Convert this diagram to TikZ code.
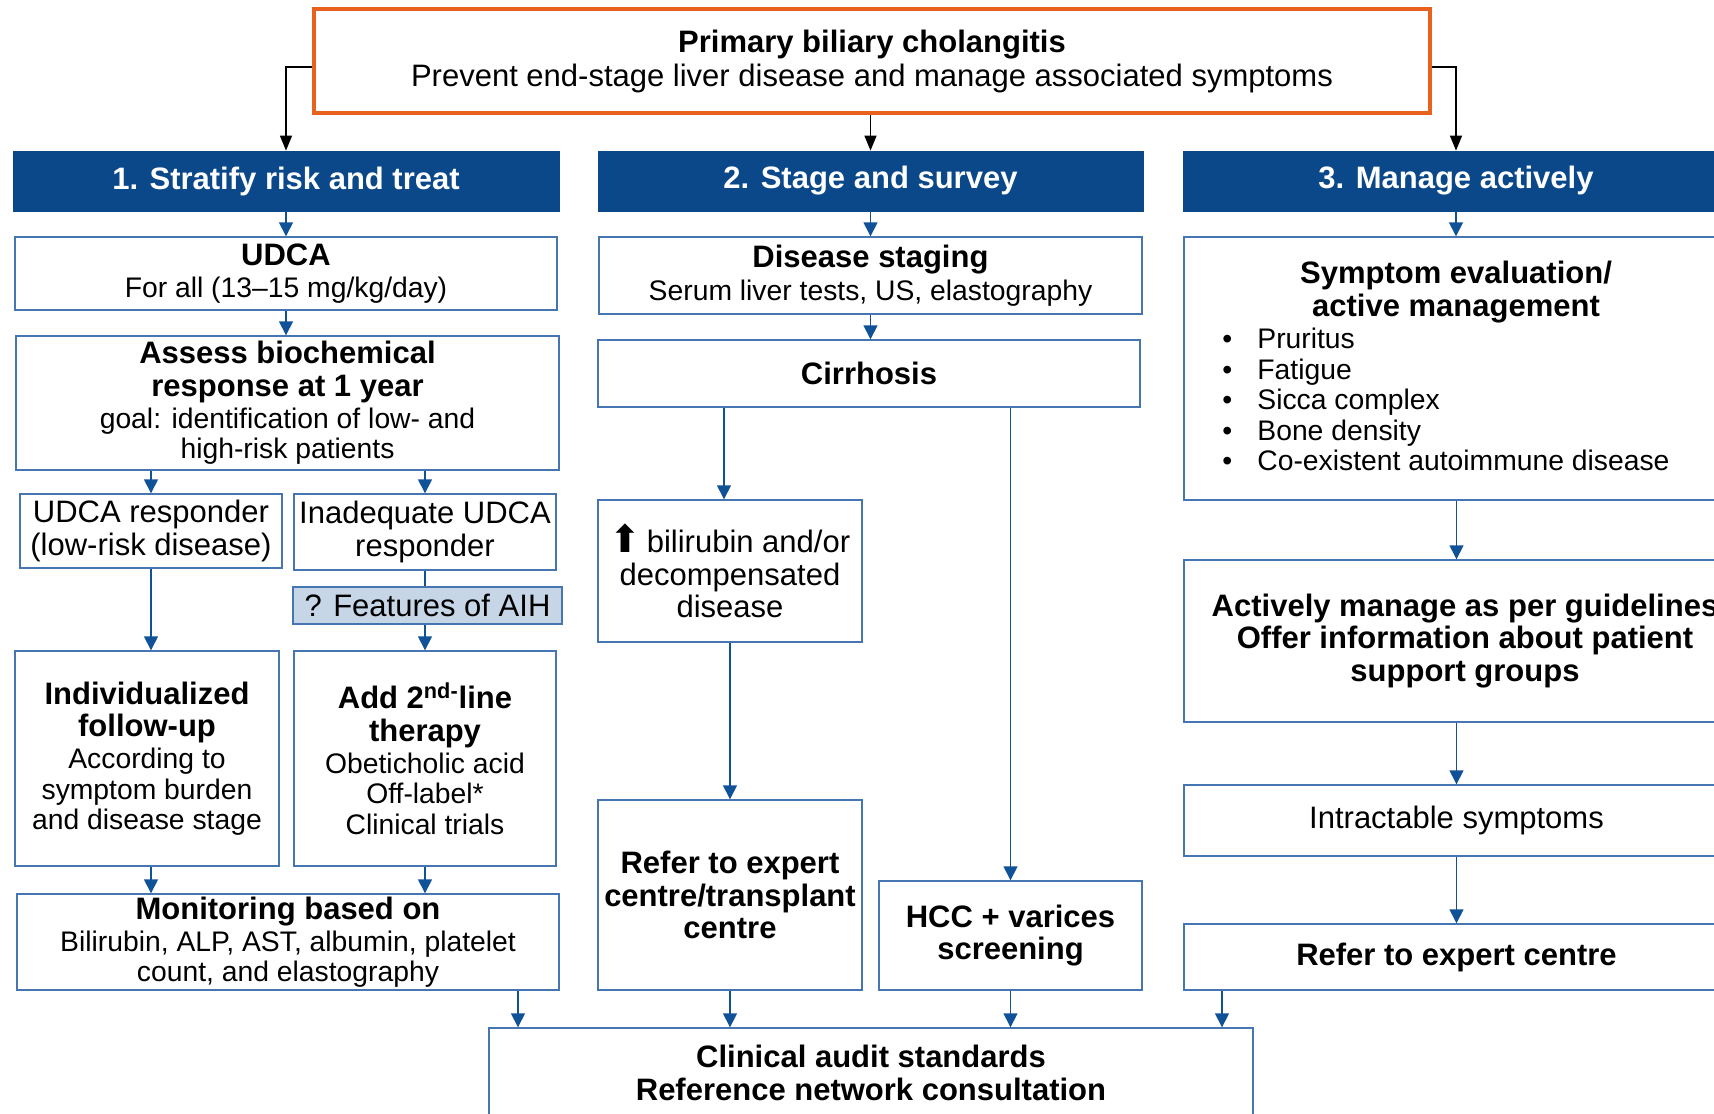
\documentclass[tikz,border=0pt]{standalone}
\usepackage{fontspec}
\setmainfont{Liberation Sans}
\newfontfamily\dejavu{DejaVu Sans}
\usetikzlibrary{arrows.meta}
\definecolor{hdrblue}{RGB}{10,72,138}
\definecolor{bordblue}{RGB}{70,118,178}
\definecolor{arrblue}{RGB}{16,82,152}
\definecolor{aihfill}{RGB}{198,214,231}
\definecolor{pbcorange}{RGB}{232,98,30}
\newcommand\Lg{\fontsize{15.5}{16.2}\selectfont}
\newcommand\Sm{\fontsize{14.15}{15.2}\selectfont}
\begin{document}
\begin{tikzpicture}[x=0.5pt,y=-0.5pt,
  rect/.style args={#1/#2/#3/#4}{minimum width={(#3-#1)*0.5pt}, minimum height={(#4-#2)*0.5pt}, at={({(#1+#3)/2},{(#2+#4)/2})}},
  box/.style={draw=bordblue, line width=0.7pt, fill=white, inner sep=0pt, align=center, font=\Lg},
  hdr/.style={draw=hdrblue, fill=hdrblue, inner sep=0pt, text=white, font=\Lg\bfseries, align=center},
  topbox/.style={draw=pbcorange, line width=2pt, fill=white, inner sep=0pt, align=center, font=\fontsize{15.5}{17}\selectfont},
  flow/.style={draw=arrblue, line width=0.75pt, -{Triangle[width=7pt,length=7pt]}, arrblue},
  link/.style={draw=arrblue, line width=0.75pt},
  blk/.style={draw=black, line width=0.75pt, -{Triangle[width=6pt,length=7.5pt]}},
  txt/.style={inner sep=0pt, align=left, font=\Sm}
]
\useasboundingbox (0,0) rectangle (1714,1114);
\clip (0,0) rectangle (1714,1114);

% top
\node[topbox, rect=314/9/1430/113] (top) {{\bfseries Primary biliary cholangitis}\\Prevent end-stage liver disease and manage associated symptoms};

% headers
\node[hdr, rect=13/151/559/211] (h1) {1. Stratify risk and treat};
\node[hdr, rect=598/151/1143/211] (h2) {2. Stage and survey};
\node[hdr, rect=1183/151/1729/211] (h3) {3. Manage actively};

% left column
\node[box, rect=15/237/557/310] (udca) {{\bfseries UDCA}\\{\Sm For all (13–15 mg/kg/day)}};
\node[box, rect=16/336/559/470] (assess) {{\bfseries Assess biochemical}\\{\bfseries response at 1 year}\\{\Sm goal: identification of low- and}\\[-1pt]{\Sm high-risk patients}};
\node[box, rect=20/494/282/568] (resp) {UDCA responder\\(low-risk disease)};
\node[box, rect=294/494/556/570] (inad) {Inadequate UDCA\\responder};
\node[box, fill=aihfill, rect=293/587/562/624] (aih) {? Features of AIH};
\node[box, rect=15/651/279/866] (indiv) {{\bfseries Individualized}\\{\bfseries follow-up}\\{\Sm According to}\\[-1pt]{\Sm symptom burden}\\[-1pt]{\Sm and disease stage}};
\node[box, rect=294/651/556/866] (add) {{\bfseries Add 2\textsuperscript{nd-}line}\\{\bfseries therapy}\\{\Sm Obeticholic acid}\\[-1pt]{\Sm Off-label*}\\[-1pt]{\Sm Clinical trials}};
\node[box, rect=17/894/559/990] (monit) {{\bfseries Monitoring based on}\\{\Sm Bilirubin, ALP, AST, albumin, platelet}\\[-1.5pt]{\Sm count, and elastography}};

% middle column
\node[box, rect=599/237/1142/314] (stag) {{\bfseries Disease staging}\\{\Sm Serum liver tests, US, elastography}};
\node[box, rect=598/340/1140/407] (cirr) {\bfseries Cirrhosis};
\node[box, rect=598/500/862/642] (bili) {{\dejavu\fontsize{19}{16}\selectfont ⬆}\,bilirubin and/or\\decompensated\\disease};
\node[box, rect=598/800/862/990] (refer) {{\bfseries Refer to expert}\\{\bfseries centre/transplant}\\{\bfseries centre}};
\node[box, rect=879/881/1142/990] (hcc) {{\bfseries HCC + varices}\\{\bfseries screening}};

% right column
\node[box, rect=1184/237/1729/500] (symp) {};
\node[inner sep=0pt, align=center, font=\Lg\bfseries] (sympt) at (1456,292) {Symptom evaluation/\\active management};
\node[txt, anchor=north west] (symplist) at (1222,328) {\makebox[17.5pt][l]{•}Pruritus\\\makebox[17.5pt][l]{•}Fatigue\\\makebox[17.5pt][l]{•}Sicca complex\\\makebox[17.5pt][l]{•}Bone density\\\makebox[17.5pt][l]{•}Co-existent autoimmune disease};
\node[box, rect=1184/560/1746/722] (act) {{\bfseries Actively manage as per guidelines}\\{\bfseries Offer information about patient}\\{\bfseries support groups}};
\node[box, rect=1184/785/1729/856] (intr) {Intractable symptoms};
\node[box, rect=1184/924/1729/990] (refx) {\bfseries Refer to expert centre};

% bottom
\node[box, rect=489/1028/1253/1118] (audit) {{\bfseries Clinical audit standards}\\{\bfseries Reference network consultation}};

% black connectors
\draw[blk] ([yshift=-3pt]top.west) -| (h1.north);
\draw[blk] (top.south -| h2.north) -- (h2.north);
\draw[blk] ([yshift=-3pt]top.east) -| (h3.north);

% left column connectors
\draw[flow] (h1.south) -- (h1.south |- udca.north);
\draw[flow] (udca.south) -- (udca.south |- assess.north);
\draw[flow] (assess.south -| resp.north) -- (resp.north);
\draw[flow] (assess.south -| inad.north) -- (inad.north);
\draw[flow] (resp.south) -- (resp.south |- indiv.north);
\draw[link] (inad.south) -- (inad.south |- aih.north);
\draw[flow] (aih.south -| inad.south) -- (inad.south |- add.north);
\draw[flow] (indiv.south -| resp.south) -- (resp.south |- monit.north);
\draw[flow] (add.south) -- (add.south |- monit.north);
\coordinate (xm) at (518,1000);
\draw[flow] (xm |- monit.south) -- (xm |- audit.north);

% middle column connectors
\draw[flow] (h2.south) -- (h2.south |- stag.north);
\draw[flow] (stag.south) -- (stag.south |- cirr.north);
\coordinate (xb) at (724,450);
\draw[flow] (xb |- cirr.south) -- (xb |- bili.north);
\draw[flow] (cirr.south -| hcc.north) -- (hcc.north);
\draw[flow] (bili.south) -- (bili.south |- refer.north);
\draw[flow] (refer.south) -- (refer.south |- audit.north);
\draw[flow] (hcc.south) -- (hcc.south |- audit.north);
\coordinate (xr) at (1222,1000);
\draw[flow] (xr |- refx.south) -- (xr |- audit.north);

% right column connectors
\draw[flow] (h3.south) -- (h3.south |- symp.north);
\draw[flow] (symp.south) -- (symp.south |- act.north);
\draw[flow] (symp.south |- act.south) -- (symp.south |- intr.north);
\draw[flow] (intr.south) -- (intr.south |- refx.north);
\end{tikzpicture}
\end{document}
